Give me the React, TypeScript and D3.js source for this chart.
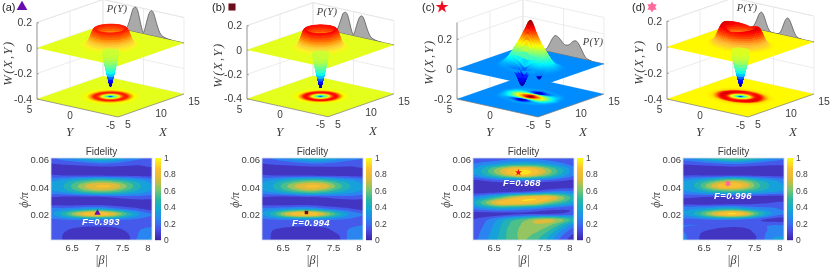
import React from "react";
import * as d3 from "d3";

// ---------- data ----------
const panelNames = ["(a)", "(b)", "(c)", "(d)"];
const zTicks = [[0.2, 0, -0.2, -0.4], [0.2, 0, -0.2, -0.4], [0.2, 0, -0.2], [0.2, 0, -0.2, -0.4]];
const zTops = [0.2, 0.2, 0.31, 0.2];
const fidelityLabels = ["F=0.993", "F=0.994", "F=0.968", "F=0.996"];
const markerBeta = [7.0, 6.96, 6.98, 6.97];
const markerPhi = [0.0213, 0.0216, 0.0505, 0.0425];
const markerColors = ["#6a0dad", "#6b0a1a", "#f01020", "#ff6a9a"];
const xTicks3d = [5, 10, 15];
const yTicks3d = [-5, 0, 5];
const yTickDrop = [8, 7, 10.5];
const betaTicks = [6.5, 7, 7.5, 8];
const phiTicks = [0.02, 0.04, 0.06];
const cbarTicks = [0, 0.2, 0.4, 0.6, 0.8, 1];

// radial Wigner profiles, sampled every 0.2 in radius
const profileA = [-0.32, -0.265, -0.2, -0.125, -0.03, 0.05, 0.105, 0.128, 0.13, 0.1, 0.06, 0.03, 0.012, 0.004, 0.001, 0];
const profileB = [-0.33, -0.275, -0.205, -0.13, -0.03, 0.06, 0.12, 0.145, 0.145, 0.105, 0.058, 0.026, 0.01, 0.003, 0.001, 0];
const profileD = [-0.32, -0.265, -0.2, -0.125, -0.03, 0.05, 0.105, 0.132, 0.135, 0.105, 0.065, 0.032, 0.013, 0.004, 0.001, 0];
const gainAngles = [0, 45, 90, 135, 180, 225, 270, 315, 360];
const gainD = [0.8, 0.95, 1.1, 1.0, 0.85, 0.95, 1.05, 0.95, 0.8];

// panel (c) surface, rows X-10, columns Y
const cXs = [-2.4, -1.8, -1.2, -0.6, 0, 0.6, 1.2, 1.8, 2.4];
const cYs = [-3.6, -3, -2.4, -1.8, -1.2, -0.6, 0, 0.6, 1.2, 1.8, 2.4, 3, 3.6];
const cSurface = [
  [0, 0, 0, 0, 0.005, 0.01, 0.015, 0.01, 0.005, 0, 0, 0, 0],
  [0, 0, 0.005, 0.01, 0.01, 0, -0.015, 0, 0.005, 0.01, 0.005, 0, 0],
  [0, 0.005, 0.015, 0.02, 0.01, -0.04, -0.105, -0.04, 0, 0.02, 0.02, 0.005, 0],
  [0, 0.01, 0.04, 0.08, 0.1, 0.12, 0.15, 0.13, 0.11, 0.08, 0.04, 0.01, 0],
  [0, 0.02, 0.06, 0.12, 0.17, 0.24, 0.31, 0.25, 0.18, 0.12, 0.06, 0.02, 0],
  [0, 0.01, 0.04, 0.08, 0.11, 0.13, 0.15, 0.12, 0.1, 0.08, 0.04, 0.01, 0],
  [0, 0.005, 0.02, 0.02, 0, -0.04, -0.1, -0.04, 0.01, 0.02, 0.015, 0.005, 0],
  [0, 0, 0.005, 0.01, 0.005, 0, -0.015, 0, 0.01, 0.01, 0.005, 0, 0],
  [0, 0, 0, 0, 0.005, 0.01, 0.015, 0.01, 0.005, 0, 0, 0, 0],
];

// P(Y) curves
const pY = d3.range(-3.5, 3.51, 0.25);
const pA = [0, 0.002, 0.004, 0.007, 0.012, 0.02, 0.04, 0.08, 0.13, 0.18, 0.197, 0.18, 0.13, 0.065, 0.012, 0.05, 0.12, 0.18, 0.197, 0.185, 0.135, 0.075, 0.03, 0.012, 0.004, 0.001, 0, 0, 0];
const pB = [0, 0.001, 0.002, 0.005, 0.01, 0.018, 0.036, 0.072, 0.12, 0.165, 0.18, 0.165, 0.12, 0.06, 0.01, 0.045, 0.11, 0.165, 0.18, 0.17, 0.125, 0.07, 0.028, 0.01, 0.003, 0.001, 0, 0, 0];
const pC = [0, 0.004, 0.008, 0.015, 0.035, 0.06, 0.085, 0.105, 0.113, 0.108, 0.095, 0.08, 0.072, 0.07, 0.076, 0.09, 0.105, 0.115, 0.118, 0.105, 0.08, 0.05, 0.025, 0.01, 0.004, 0.001, 0, 0, 0];
const pD = [0, 0.002, 0.006, 0.02, 0.05, 0.09, 0.125, 0.14, 0.125, 0.085, 0.04, 0.012, 0.002, 0, 0, 0.002, 0.012, 0.04, 0.085, 0.125, 0.14, 0.125, 0.085, 0.045, 0.018, 0.006, 0.002, 0, 0];

// fidelity grids; rows from phi=0.06 down, columns across |beta|
const fidA = [
  [0.18, 0.25, 0.32, 0.42, 0.5, 0.42, 0.3, 0.22, 0.18],
  [0.1, 0.12, 0.14, 0.17, 0.2, 0.18, 0.14, 0.12, 0.14],
  [0.04, 0.04, 0.04, 0.04, 0.04, 0.05, 0.06, 0.07, 0.08],
  [0.1, 0.08, 0.07, 0.06, 0.05, 0.05, 0.05, 0.05, 0.05],
  [0.28, 0.33, 0.42, 0.5, 0.55, 0.5, 0.42, 0.33, 0.25],
  [0.3, 0.4, 0.58, 0.75, 0.82, 0.78, 0.6, 0.42, 0.3],
  [0.28, 0.33, 0.45, 0.55, 0.6, 0.55, 0.45, 0.35, 0.28],
  [0.1, 0.08, 0.07, 0.07, 0.08, 0.12, 0.15, 0.16, 0.14],
  [0.03, 0.03, 0.03, 0.03, 0.03, 0.03, 0.04, 0.04, 0.05],
  [0.22, 0.22, 0.25, 0.3, 0.3, 0.22, 0.15, 0.1, 0.05],
  [0.28, 0.45, 0.7, 0.88, 0.9, 0.75, 0.5, 0.3, 0.2],
  [0.18, 0.2, 0.22, 0.25, 0.25, 0.22, 0.2, 0.18, 0.15],
  [0.14, 0.14, 0.13, 0.12, 0.12, 0.13, 0.15, 0.17, 0.18],
  [0.15, 0.11, 0.07, 0.06, 0.05, 0.06, 0.11, 0.2, 0.25],
  [0.18, 0.09, 0.03, 0.02, 0.02, 0.03, 0.07, 0.22, 0.3],
  [0.2, 0.09, 0.03, 0.01, 0.01, 0.02, 0.05, 0.25, 0.32],
];
const fidB = [
  [0.18, 0.22, 0.3, 0.38, 0.45, 0.42, 0.32, 0.25, 0.2],
  [0.1, 0.12, 0.14, 0.17, 0.2, 0.19, 0.16, 0.13, 0.14],
  [0.04, 0.04, 0.04, 0.04, 0.04, 0.05, 0.07, 0.08, 0.09],
  [0.1, 0.08, 0.07, 0.06, 0.05, 0.05, 0.05, 0.05, 0.05],
  [0.27, 0.33, 0.42, 0.5, 0.55, 0.5, 0.4, 0.32, 0.25],
  [0.3, 0.42, 0.6, 0.76, 0.83, 0.76, 0.56, 0.4, 0.3],
  [0.28, 0.34, 0.45, 0.55, 0.6, 0.52, 0.42, 0.34, 0.28],
  [0.1, 0.08, 0.07, 0.08, 0.09, 0.12, 0.15, 0.16, 0.14],
  [0.03, 0.03, 0.03, 0.03, 0.03, 0.03, 0.04, 0.04, 0.05],
  [0.22, 0.23, 0.26, 0.3, 0.28, 0.2, 0.14, 0.1, 0.05],
  [0.3, 0.48, 0.75, 0.9, 0.88, 0.7, 0.46, 0.28, 0.2],
  [0.18, 0.2, 0.22, 0.25, 0.25, 0.22, 0.2, 0.18, 0.15],
  [0.14, 0.14, 0.13, 0.12, 0.12, 0.13, 0.15, 0.18, 0.2],
  [0.15, 0.09, 0.06, 0.05, 0.05, 0.07, 0.13, 0.22, 0.26],
  [0.17, 0.07, 0.03, 0.02, 0.02, 0.04, 0.08, 0.24, 0.3],
  [0.18, 0.06, 0.02, 0.01, 0.01, 0.03, 0.07, 0.26, 0.32],
];
const fidC = [
  [0.1, 0.12, 0.15, 0.18, 0.2, 0.18, 0.15, 0.12, 0.1],
  [0.2, 0.25, 0.3, 0.38, 0.4, 0.38, 0.3, 0.22, 0.15],
  [0.3, 0.45, 0.65, 0.82, 0.88, 0.8, 0.62, 0.42, 0.25],
  [0.28, 0.42, 0.6, 0.78, 0.9, 0.75, 0.58, 0.38, 0.22],
  [0.08, 0.12, 0.17, 0.2, 0.22, 0.2, 0.16, 0.12, 0.08],
  [0.03, 0.03, 0.03, 0.03, 0.03, 0.03, 0.03, 0.04, 0.05],
  [0.03, 0.04, 0.05, 0.07, 0.1, 0.15, 0.22, 0.25, 0.22],
  [0.25, 0.35, 0.5, 0.68, 0.8, 0.85, 0.82, 0.65, 0.45],
  [0.38, 0.6, 0.82, 0.85, 0.85, 0.78, 0.62, 0.48, 0.35],
  [0.22, 0.3, 0.36, 0.35, 0.3, 0.25, 0.18, 0.14, 0.12],
  [0.05, 0.05, 0.06, 0.08, 0.1, 0.1, 0.1, 0.12, 0.16],
  [0.1, 0.18, 0.3, 0.45, 0.55, 0.68, 0.72, 0.62, 0.45],
  [0.12, 0.22, 0.36, 0.52, 0.62, 0.68, 0.62, 0.45, 0.25],
  [0.14, 0.25, 0.38, 0.55, 0.62, 0.62, 0.5, 0.3, 0.14],
  [0.16, 0.27, 0.4, 0.55, 0.62, 0.55, 0.4, 0.2, 0.07],
  [0.18, 0.28, 0.42, 0.55, 0.6, 0.5, 0.35, 0.15, 0.05],
];
const fidD = [
  [0.25, 0.32, 0.42, 0.52, 0.58, 0.52, 0.42, 0.3, 0.22],
  [0.12, 0.14, 0.17, 0.2, 0.22, 0.2, 0.16, 0.13, 0.12],
  [0.03, 0.03, 0.03, 0.03, 0.04, 0.04, 0.05, 0.06, 0.07],
  [0.08, 0.08, 0.06, 0.05, 0.05, 0.05, 0.05, 0.05, 0.05],
  [0.28, 0.35, 0.45, 0.58, 0.65, 0.58, 0.42, 0.32, 0.25],
  [0.32, 0.42, 0.65, 0.85, 0.88, 0.75, 0.52, 0.38, 0.3],
  [0.28, 0.32, 0.42, 0.48, 0.5, 0.45, 0.38, 0.32, 0.28],
  [0.12, 0.11, 0.09, 0.07, 0.06, 0.05, 0.05, 0.05, 0.06],
  [0.06, 0.04, 0.03, 0.03, 0.03, 0.05, 0.08, 0.1, 0.12],
  [0.25, 0.28, 0.32, 0.38, 0.4, 0.32, 0.25, 0.22, 0.18],
  [0.3, 0.42, 0.65, 0.85, 0.92, 0.78, 0.5, 0.3, 0.2],
  [0.18, 0.18, 0.2, 0.22, 0.22, 0.18, 0.12, 0.07, 0.05],
  [0.2, 0.2, 0.18, 0.15, 0.13, 0.14, 0.17, 0.2, 0.2],
  [0.2, 0.14, 0.09, 0.05, 0.05, 0.07, 0.15, 0.22, 0.25],
  [0.22, 0.13, 0.04, 0.03, 0.03, 0.05, 0.12, 0.28, 0.3],
  [0.22, 0.13, 0.04, 0.03, 0.03, 0.05, 0.13, 0.3, 0.3],
];

// ---------- layout ----------
const frontXs = [118, 328, 538, 748];
const zeroYs = [48, 50, 69, 47];
const zScales = [127.5, 122, 150, 130];
const zLows = [-0.4, -0.4, -0.2, -0.4];
// height to colormap position, per panel
const colorZ = [
  [-0.32, -0.27, -0.216, -0.114, 0, 0.213],
  [-0.33, -0.28, -0.22, -0.115, 0, 0.22],
  [-0.11, 0.31],
  [-0.32, -0.27, -0.216, -0.114, 0, 0.19],
];
const colorT = [
  [0.04, 0.15, 0.38, 0.55, 0.6, 1],
  [0.04, 0.15, 0.38, 0.55, 0.6, 1],
  [0, 1],
  [0.04, 0.15, 0.38, 0.56, 0.63, 1],
];
const labelPos3d = [[6, 63], [216, 65], [427, 62], [637, 62]];
const pLabelPos = [[117, 9], [327, 12], [593, 42], [747, 8]];
const nameX = [2, 212, 422, 632];
const plotLefts = [51, 262, 473, 683];
const plotW = 101;
const plotTop = 158;
const plotBottom = 240;
const fLabelPos = [[101, 221], [311, 222], [522, 182], [733, 195]];

const SANS = "'Liberation Sans', Arial, sans-serif";
const SERIF = "'Liberation Serif', 'Times New Roman', serif";
const TXT = "#3c3c3c";

const jet = d3.scaleLinear<string>()
  .domain([0, 0.125, 0.375, 0.625, 0.875, 1])
  .range(["#00008f", "#0000ff", "#00ffff", "#ffff00", "#ff0000", "#800000"])
  .clamp(true);
const parula = d3.scaleLinear<string>()
  .domain(d3.range(0, 1.001, 0.125))
  .range(["#3e26a8", "#4a4fe8", "#2a85f0", "#13a8d5", "#2cb9a0", "#81c76a", "#e0bb3a", "#fdc12f", "#f9fb15"])
  .clamp(true);

function catmull(p0: number, p1: number, p2: number, p3: number, t: number) {
  return 0.5 * (2 * p1 + (p2 - p0) * t + (2 * p0 - 5 * p1 + 4 * p2 - p3) * t * t + (3 * p1 - p0 - 3 * p2 + p3) * t * t * t);
}
function bicubic(g: number[][], r: number, c: number) {
  const nr = g.length, nc = g[0].length;
  const r0 = Math.min(Math.floor(r), nr - 2), c0 = Math.min(Math.floor(c), nc - 2);
  const at = (i: number, j: number) => g[Math.max(0, Math.min(nr - 1, i))][Math.max(0, Math.min(nc - 1, j))];
  const vals = [-1, 0, 1, 2].map((di) =>
    catmull(at(r0 + di, c0 - 1), at(r0 + di, c0), at(r0 + di, c0 + 1), at(r0 + di, c0 + 2), c - c0));
  return catmull(vals[0], vals[1], vals[2], vals[3], r - r0);
}
function smoothProfile(vals: number[]) {
  const n = vals.length;
  return (r: number) => {
    const s = r / 0.2;
    if (s >= n - 1) return 0;
    const i = Math.floor(s);
    const at = (k: number) => vals[Math.min(n - 1, Math.abs(k))];
    return catmull(at(i - 1), at(i), at(i + 1), at(i + 2), s - i);
  };
}

function sampler(panel: number) {
  if (panel === 2) {
    const rs = d3.scaleLinear().domain([cXs[0], cXs[cXs.length - 1]]).range([0, cXs.length - 1]);
    const cs = d3.scaleLinear().domain([cYs[0], cYs[cYs.length - 1]]).range([0, cYs.length - 1]);
    return (dx: number, dy: number) => {
      if (Math.abs(dx) >= 2.4 || Math.abs(dy) >= 3.6) return 0;
      return bicubic(cSurface, rs(dx), cs(dy));
    };
  }
  const prof = smoothProfile(panel === 0 ? profileA : panel === 1 ? profileB : profileD);
  if (panel !== 3) return (dx: number, dy: number) => prof(Math.hypot(dx, dy));
  const gain = d3.scaleLinear().domain(gainAngles).range(gainD);
  return (dx: number, dy: number) => {
    const w = prof(Math.hypot(dx / 0.95, dy / 1.25));
    const th = ((Math.atan2(dy, dx) * 180) / Math.PI + 360) % 360;
    return w > 0 ? w * gain(th) : w;
  };
}

function meshCells(panel: number): [number, number][][] {
  const out: [number, number][][] = [];
  if (panel === 2) {
    const xs = d3.range(-2.5, 2.5001, 0.1), ys = d3.range(-3.7, 3.7001, 0.1);
    xs.forEach((x) => ys.forEach((y) => out.push([[x, y], [x + 0.1, y], [x + 0.1, y + 0.1], [x, y + 0.1]])));
    return out;
  }
  const k = panel === 3 ? [0.95, 1.25] : [1, 1];
  const rs = d3.range(0, 3.4, 0.07), th = d3.range(0, 360, 6).map((d) => (d * Math.PI) / 180);
  const dth = (6 * Math.PI) / 180;
  rs.forEach((r) => th.forEach((t) => {
    const P = (rr: number, tt: number): [number, number] => [rr * Math.cos(tt) * k[0], rr * Math.sin(tt) * k[1]];
    out.push([P(r, t), P(r + 0.07, t), P(r + 0.07, t + dth), P(r, t + dth)]);
  }));
  return out;
}

function Surface3D({ panel }: { panel: number }) {
  const fx = frontXs[panel], z0 = zeroYs[panel], zs = zScales[panel], zlo = zLows[panel];
  const uS = d3.scaleLinear().domain([5, 15]).range([0, 1]);
  const vS = d3.scaleLinear().domain([-5, 5]).range([0, 1]);
  const zY = d3.scaleLinear().domain([0, 1]).range([z0, z0 - zs]);
  const floorOffset = 18;
  const proj = (X: number, Y: number, z: number): [number, number] => {
    const u = uS(X), v = vS(Y);
    return [fx + 66 * u - 81 * v, zY(z) + floorOffset - 23 * u - 18 * v];
  };
  const tS = d3.scaleLinear().domain(colorZ[panel]).range(colorT[panel]).clamp(true);
  const col = (z: number) => jet(tS(z));
  const W = sampler(panel);
  const quads: { d: string; z: number; o: number; f: string; dx: number }[] = [];
  const floorBins = new Map<string, string>();
  const pth = (ps: [number, number][]) => "M" + ps.map((p) => p[0].toFixed(2) + "," + p[1].toFixed(2)).join("L") + "Z";
  meshCells(panel).forEach((cell) => {
    const c = cell.map((p) => W(p[0], p[1]));
    const m = d3.mean(c) as number;
    const f = jet(Math.round(tS(m) * 220) / 220);
    const floorD = pth(cell.map((p) => proj(10 + p[0], p[1], zlo)));
    if (Math.abs(m) > 0.0008) {
      floorBins.set(f, (floorBins.get(f) || "") + floorD);
      // the outer foot of the crown looks washed out in panels a, b, d
      const pale = panel !== 2 && m > 0.004 && m < 0.09 ? 0.4 * (1 - Math.abs(m - 0.035) / 0.055) : 0;
      quads.push({
        d: pth(cell.map((p, i) => proj(10 + p[0], p[1], c[i]))),
        z: m,
        o: d3.mean(cell, (p) => p[0] + p[1]) as number,
        dx: d3.mean(cell, (p) => p[0]) as number,
        f: pale > 0 ? d3.interpolateRgb(f, "#ffc8a0")(Math.max(0, pale)) : f,
      });
    }
  });
  quads.sort((a, b) => b.o - a.o);
  const under = quads.filter((q) => q.z < -0.035 && (panel !== 2 || q.dx < 0));

  const corner = proj;
  const top = zTops[panel];
  const poly = (z: number) => [corner(5, -5, z), corner(15, -5, z), corner(15, 5, z), corner(5, 5, z)].map((p) => p.join(",")).join(" ");
  const pVals = [pA, pB, pC, pD][panel];
  const ascend = pVals.map((_, i) => i).reverse();
  const orderedVals = ascend.map((i) => pVals[i]);
  const revArea = d3.area<number>()
    .x((d, i) => proj(15, pY[ascend[i]], 0)[0])
    .y0((d, i) => proj(15, pY[ascend[i]], 0)[1])
    .y1((d, i) => proj(15, pY[ascend[i]], d)[1])
    .curve(d3.curveMonotoneX);
  const revLine = d3.line<number>()
    .x((d, i) => proj(15, pY[ascend[i]], 0)[0])
    .y((d, i) => proj(15, pY[ascend[i]], d)[1])
    .curve(d3.curveMonotoneX);

  const grid = "#e4e4e4";
  const L = (a: [number, number], b: [number, number], stroke: string, key: string, w = 0.7) => (
    <line key={key} x1={a[0]} y1={a[1]} x2={b[0]} y2={b[1]} stroke={stroke} strokeWidth={w} />
  );
  const tail0 = proj(15, pY[pY.length - 1], 0), tail1 = proj(15, -5, 0);
  return (
    <g>
      {xTicks3d.map((x) => L(corner(x, 5, zlo), corner(x, 5, top), grid, "wx" + x))}
      {yTicks3d.map((y) => L(corner(15, y, zlo), corner(15, y, top), grid, "wy" + y))}
      {zTicks[panel].map((z) => (
        <g key={"wz" + z}>
          {L(corner(5, 5, z), corner(15, 5, z), grid, "a")}
          {L(corner(15, 5, z), corner(15, -5, z), grid, "b")}
        </g>
      ))}
      {L(corner(5, 5, top), corner(15, 5, top), grid, "ta")}
      {L(corner(15, 5, top), corner(15, -5, top), grid, "tb")}
      <polygon points={poly(zlo)} fill={col(0)} />
      {[...floorBins.entries()].map(([f, d]) => (
        <path key={f} d={d} fill={f} stroke={f} strokeWidth={0.3} />
      ))}
      {L(corner(5, 5, zlo), corner(5, 5, top), "#777", "ax1")}
      {L(corner(5, 5, zlo), corner(5, -5, zlo), "#777", "ax2")}
      {L(corner(5, -5, zlo), corner(15, -5, zlo), "#777", "ax3")}
      {zTicks[panel].map((z) => {
        const p = corner(5, 5, z);
        return (
          <g key={"t" + z}>
            <line x1={p[0]} y1={p[1]} x2={p[0] + 2} y2={p[1] + 0.5} stroke="#777" strokeWidth={0.6} />
            <text x={p[0] - 5} y={p[1] - 0.5} textAnchor="end" dominantBaseline="central" fontFamily={SANS} fontSize={10.5} fill={TXT}>{z}</text>
          </g>
        );
      })}
      {yTicks3d.map((y, i) => {
        const p = corner(5, y, zlo);
        return <text key={"y" + y} x={p[0] - 7.5} y={p[1] + yTickDrop[i]} textAnchor="middle" dominantBaseline="central" fontFamily={SANS} fontSize={10} fill={TXT}>{y}</text>;
      })}
      {xTicks3d.map((x) => {
        const p = corner(x, -5, zlo);
        return <text key={"x" + x} x={p[0] + 10} y={p[1] + 7} textAnchor="middle" dominantBaseline="central" fontFamily={SANS} fontSize={10.5} fill={TXT}>{x}</text>;
      })}
      {(() => {
        const pY0 = corner(5, 0, zlo), pX0 = corner(10, -5, zlo);
        return (
          <g fontFamily={SERIF} fontStyle="italic" fontSize={13} fill={TXT} textAnchor="middle">
            <text x={pY0[0] - 8} y={pY0[1] + 28}>Y</text>
            <text x={pX0[0] + 12} y={pX0[1] + 30}>X</text>
            <text transform={`translate(${labelPos3d[panel][0] + 5.5},${labelPos3d[panel][1]}) rotate(-90)`} letterSpacing={1.5} fontSize={12.5}>W(X,Y)</text>
            <text x={pLabelPos[panel][0]} y={pLabelPos[panel][1] + 3} fontSize={10.5} letterSpacing={0.3}>P(Y)</text>
          </g>
        );
      })()}
      <path d={revArea(orderedVals) as string} fill="#a9a9a9" />
      <path d={revLine(orderedVals) as string} fill="none" stroke="#4a4a4a" strokeWidth={0.7} />
      {L(tail0, tail1, "#4a4a4a", "tail")}
      <polygon points={poly(0)} fill={col(0)} />
      {quads.map((q, i) => (
        <path key={i} d={q.d} fill={q.f} stroke={q.f} strokeWidth={0.25} />
      ))}
      {under.map((q, i) => (
        <path key={"u" + i} d={q.d} fill={q.f} stroke={q.f} strokeWidth={0.25} />
      ))}
    </g>
  );
}

function FidelityMap({ panel }: { panel: number }) {
  const grid = [fidA, fidB, fidC, fidD][panel];
  const x0 = plotLefts[panel];
  const xS = d3.scaleLinear().domain([6.08, 8.08]).range([x0, x0 + plotW]);
  const yS = d3.scaleLinear().domain([0.06, 0.02]).range([159.3, 214.7]);
  const up = 6;
  const nr = grid.length, nc = grid[0].length;
  const nx = (nc - 1) * up + 1, ny = (nr - 1) * up + 1;
  const values: number[] = [];
  for (let j = 0; j < ny; j++) for (let i = 0; i < nx; i++) values.push(Math.max(0, Math.min(1, bicubic(grid, j / up, i / up))));
  const levels = d3.range(0, 1, 0.1);
  const cs = d3.contours().size([nx, ny]).thresholds(levels)(values);
  const path = d3.geoPath();
  const sx = plotW / (nx - 1), sy = (plotBottom + 2 - plotTop) / (ny - 1);
  const clipId = "clip" + panel;
  const cbX = x0 + plotW + 3;
  const cbY = d3.scaleLinear().domain([0, 1]).range([plotBottom, plotTop]);
  const cx = xS(markerBeta[panel]), cy = yS(markerPhi[panel]);
  const mColor = markerColors[panel];
  let marker: React.ReactNode;
  if (panel === 0) marker = <path d={d3.symbol().type(d3.symbolTriangle).size(18)() as string} transform={`translate(${cx},${cy})`} fill={mColor} />;
  else if (panel === 1) marker = <path d={d3.symbol().type(d3.symbolSquare).size(12)() as string} transform={`translate(${cx},${cy})`} fill={mColor} />;
  else if (panel === 2) marker = <path d={d3.symbol().type(d3.symbolStar).size(16)() as string} transform={`translate(${cx},${cy})`} fill={mColor} />;
  else marker = (
    <g transform={`translate(${cx},${cy})`} fill={mColor}>
      <path d={d3.symbol().type(d3.symbolTriangle).size(16)() as string} />
      <path d={d3.symbol().type(d3.symbolTriangle).size(16)() as string} transform="rotate(180)" />
    </g>
  );
  return (
    <g fontFamily={SANS} fill={TXT}>
      <defs>
        <clipPath id={clipId}><rect x={x0} y={plotTop} width={plotW} height={plotBottom - plotTop} /></clipPath>
      </defs>
      <g clipPath={`url(#${clipId})`}>
        <rect x={x0} y={plotTop} width={plotW} height={plotBottom - plotTop} fill={parula(0.05)} />
        <g transform={`translate(${x0 - 0.5 * sx},${plotTop - 0.5 * sy}) scale(${sx},${sy})`}>
          {cs.map((c) => (
            <path key={c.value} d={path(c as any) as string} fill={parula(c.value + 0.05)} />
          ))}
        </g>
      </g>
      <rect x={x0} y={plotTop} width={plotW} height={plotBottom - plotTop} fill="none" stroke="#cfdcec" strokeWidth={0.8} />
      <text x={x0 + plotW / 2} y={155} textAnchor="middle" fontSize={10}>Fidelity</text>
      {betaTicks.map((b) => (
        <text key={b} x={xS(b)} y={251} textAnchor="middle" fontSize={9.5}>{b}</text>
      ))}
      {phiTicks.map((p) => (
        <text key={p} x={x0 - 2} y={yS(p)} textAnchor="end" dominantBaseline="central" fontSize={9.5}>{p}</text>
      ))}
      <text x={x0 + plotW / 2} y={264} textAnchor="middle" fontFamily={SERIF} fontStyle="italic" fontSize={12}>|β|</text>
      <text transform={`translate(${x0 - 23},${200}) rotate(-90)`} textAnchor="middle" fontFamily={SERIF} fontStyle="italic" fontSize={12}>ϕ/π</text>
      {d3.range(0, 82).map((i) => (
        <rect key={i} x={cbX} y={plotBottom - i - 1} width={6} height={1.2} fill={parula(i / 81)} />
      ))}
      {cbarTicks.map((t) => (
        <text key={t} x={cbX + 9} y={cbY(t)} dominantBaseline="central" fontSize={8.5}>{t}</text>
      ))}
      {marker}
      <text x={fLabelPos[panel][0]} y={fLabelPos[panel][1]} textAnchor="middle" dominantBaseline="central" fontSize={9.5} fontWeight="bold" fontStyle="italic" fill="#fff" letterSpacing={0.4}>{fidelityLabels[panel]}</text>
    </g>
  );
}

function HeaderMark({ panel }: { panel: number }) {
  const x = nameX[panel] + 20, y = 7;
  const c = markerColors[panel];
  const t = `translate(${x},${y})`;
  let shape: React.ReactNode;
  if (panel === 0) shape = <path d={d3.symbol().type(d3.symbolTriangle).size(50)() as string} transform={t} fill={c} />;
  else if (panel === 1) shape = <path d={d3.symbol().type(d3.symbolSquare).size(50)() as string} transform={t} fill={c} />;
  else if (panel === 2) shape = <path d={d3.symbol().type(d3.symbolStar).size(52)() as string} transform={t} fill={c} />;
  else shape = (
    <g transform={t} fill={c}>
      <path d={d3.symbol().type(d3.symbolTriangle).size(38)() as string} />
      <path d={d3.symbol().type(d3.symbolTriangle).size(38)() as string} transform="rotate(180)" />
    </g>
  );
  return (
    <g>
      <text x={nameX[panel]} y={11} fontFamily={SANS} fontSize={11} fill="#222">{panelNames[panel]}</text>
      {shape}
    </g>
  );
}

export default function App() {
  return (
    <svg width={831} height={267} viewBox="0 0 831 267" style={{ position: "fixed", left: 0, top: 0, background: "#fff" }}>
      <defs>
        <filter id="soft" x="0" y="0" width="831" height="267" filterUnits="userSpaceOnUse">
          <feGaussianBlur stdDeviation={0.45} />
        </filter>
      </defs>
      <rect width={831} height={267} fill="#fff" />
      <g filter="url(#soft)">
        <rect width={831} height={267} fill="#fff" />
        {[0, 1, 2, 3].map((p) => (
          <g key={p}>
            <Surface3D panel={p} />
            <FidelityMap panel={p} />
            <HeaderMark panel={p} />
          </g>
        ))}
      </g>
    </svg>
  );
}
